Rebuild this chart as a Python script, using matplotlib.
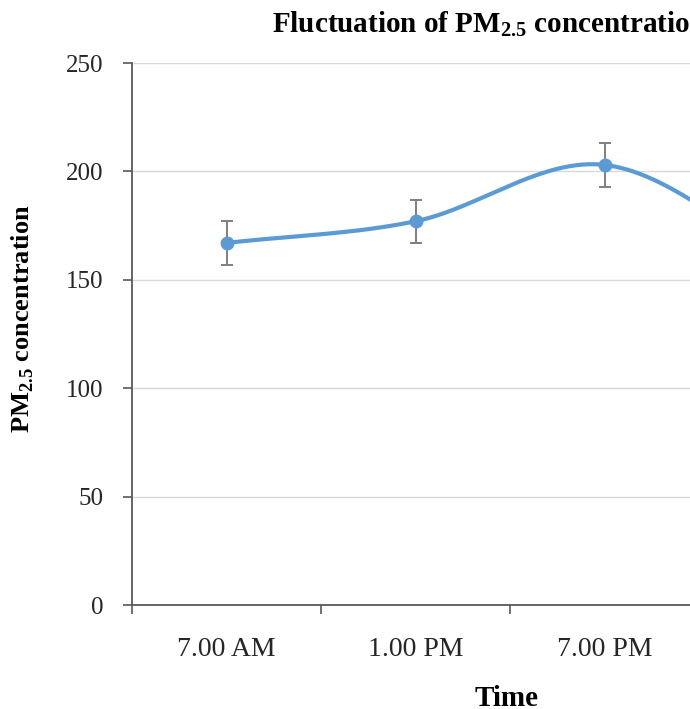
import matplotlib.pyplot as plt
import numpy as np

plt.rcParams['font.family'] = ['Liberation Serif', 'DejaVu Serif']
plt.rcParams['mathtext.fontset'] = 'custom'
plt.rcParams['mathtext.rm'] = 'Liberation Serif'
plt.rcParams['mathtext.bf'] = 'Liberation Serif:bold'

times = ['7.00 AM', '1.00 PM', '7.00 PM', '1.00 AM']
pm25 = [167, 177, 203, 157]
err = [10, 10, 10, 10]


def smooth(y, n=60):
    # catmull-rom style smoothing like the excel smoothed line
    y = np.asarray(y, dtype=float)
    m = np.gradient(y)
    xs, ys = [], []
    for i in range(len(y) - 1):
        t = np.linspace(0, 1, n)
        h00 = 2 * t**3 - 3 * t**2 + 1
        h10 = t**3 - 2 * t**2 + t
        h01 = -2 * t**3 + 3 * t**2
        h11 = t**3 - t**2
        xs.append(i + t)
        ys.append(h00 * y[i] + h10 * m[i] + h01 * y[i + 1] + h11 * m[i + 1])
    return np.concatenate(xs), np.concatenate(ys)


fig = plt.figure(figsize=(6.9, 7.09), dpi=100)
# axes runs off the right edge, the picture is cropped there
ax = fig.add_axes([132 / 690, 104 / 709, 756 / 690, 542 / 709])

x = np.arange(len(times))
sx, sy = smooth(pm25)
ax.plot(sx, sy, color='#5B9BD5', lw=3, zorder=3, solid_capstyle='round')
ax.errorbar(x, pm25, yerr=err, fmt='none', ecolor='#7F7F7F', elinewidth=1.4,
            capsize=4.3, capthick=1.4, zorder=2)
ax.plot(x, pm25, 'o', color='#5B9BD5', ms=9, zorder=4)

ax.set_xlim(-0.5, len(times) - 0.5)
ax.set_ylim(0, 250)
ax.set_yticks(range(0, 251, 50))
ax.yaxis.grid(True, color='#D9D9D9', lw=1)
ax.set_axisbelow(True)

ax.set_xticks(np.arange(-0.5, len(times), 1))
ax.set_xticklabels([])
ax.set_xticks(x, minor=True)
ax.set_xticklabels(times, minor=True)
ax.tick_params(axis='x', which='major', length=6.5, width=1.2, color='#595959')
ax.tick_params(axis='x', which='minor', length=0, pad=23, labelsize=20, labelcolor='#262626')
ax.tick_params(axis='y', length=6.5, width=1.2, color='#595959', pad=14, labelsize=18, labelcolor='#262626')

for s in ['top', 'right']:
    ax.spines[s].set_visible(False)
for s in ['left', 'bottom']:
    ax.spines[s].set_color('#595959')
    ax.spines[s].set_linewidth(1.3)

fig.text(272 / 690, 1 - 32 / 709, r'Fluctuation of PM$_{\mathbf{2.5}}$ concentration',
         fontsize=21, fontweight='bold', ha='left', va='baseline')
fig.text(23 / 690, 1 - 319 / 709, r'PM$_{\mathbf{2.5}}$ concentration', fontsize=19,
         fontweight='bold', rotation=90, ha='center', va='center')
fig.text(507 / 690, 3 / 709, 'Time', fontsize=21, fontweight='bold', ha='center', va='baseline')

fig.savefig('out.png', dpi=100)
